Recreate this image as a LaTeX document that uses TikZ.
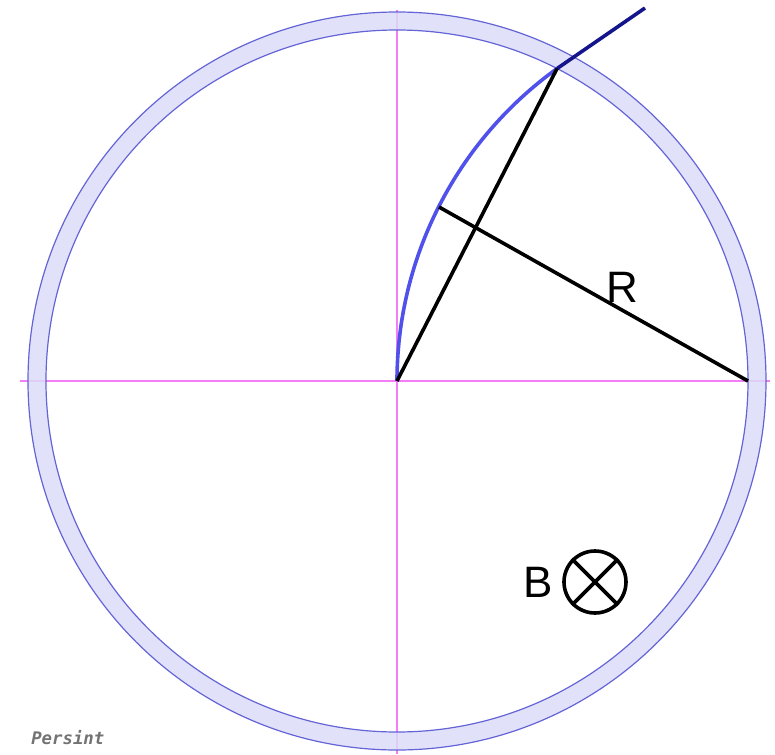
\documentclass[tikz,border=0pt]{standalone}
\usepackage{fontspec}
\setmainfont{Liberation Sans}
\newfontfamily\persfont{DejaVu Sans Mono}
\usetikzlibrary{calc}

\definecolor{ringfill}{RGB}{220,220,248}
\definecolor{ringedge}{RGB}{100,100,215}
\definecolor{axispink}{RGB}{245,125,245}
\definecolor{trackblue}{RGB}{80,80,235}
\definecolor{tracknavy}{RGB}{20,20,140}

\tikzset{
    axisline/.style={axispink, line width=1.9pt},
    blackline/.style={black, line width=2.7pt},
    bigtext/.style={font=\fontsize{33}{38}\selectfont, inner sep=0pt}
}

\begin{document}
\begin{tikzpicture}[x=0.75pt, y=0.75pt]
\useasboundingbox (-397,-373) rectangle (378,381);

% Axes
\draw[axisline] (-377,0) -- (373,0);
\draw[axisline] (0,371) -- (0,-373);

% Ring of the field region
\fill[ringfill, even odd rule, fill opacity=0.85] (0,0) circle (369) (0,0) circle (351);
\draw[ringedge, line width=0.9pt] (0,0) circle (369) (0,0) circle (351);

% Points
\coordinate (O) at (0,0);
\coordinate (Q) at (351,0);
\coordinate (P) at (42,174);
\coordinate (E) at (160,312.4);
\coordinate (T) at (248,373);

% Track: arc inside, straight outside
\draw[trackblue, line width=2.7pt] (O) arc[start angle=180, end angle=125.76, radius=385];
\draw[tracknavy, line width=2.7pt] (E) -- (T);

% Chord and radius
\draw[blackline] (O) -- (E);
\draw[blackline] (Q) -- (P);
\node[bigtext] (lblR) at (225,94) {R};

% Field into the page
\node[bigtext] (lblB) at (141,-201) {B};
\node[draw, circle, minimum size=46.5pt, inner sep=0pt, line width=2.7pt] (bfield) at (198,-201) {};
\draw[line width=2.7pt] (bfield.north west) -- (bfield.south east);
\draw[line width=2.7pt] (bfield.north east) -- (bfield.south west);

% Tag
\node[anchor=base west, inner sep=0pt, text=black!55, font=\persfont\bfseries\itshape\fontsize{13}{15}\selectfont] (tag) at (-366,-363) {Persint};
\end{tikzpicture}
\end{document}
